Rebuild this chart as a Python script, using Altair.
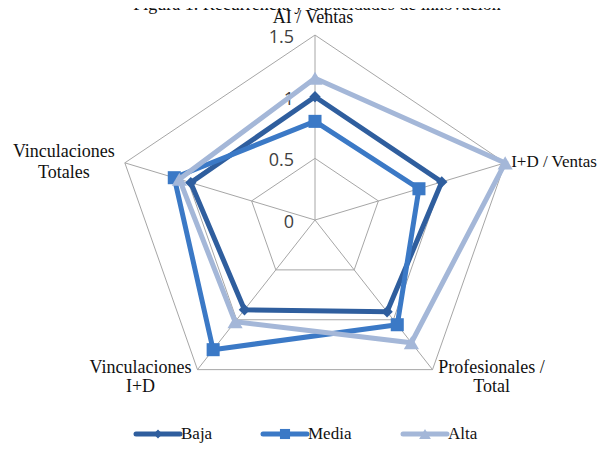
import altair as alt
import pandas as pd
import numpy as np

# ---- data ----
categories = ["AI / Ventas", "I+D / Ventas", "Profesionales / Total",
              "Vinculaciones I+D", "Vinculaciones Totales"]
series = ["Baja", "Media", "Alta"]
baja = [1.0, 1.0, 0.92, 0.90, 0.98]
media = [0.80, 0.82, 1.05, 1.30, 1.11]
alta = [1.15, 1.50, 1.23, 1.02, 1.07]
ticks = [0, 0.5, 1, 1.5]
title_text = "Figura 1. Recurrencia y capacidades de innovación"

values = {"Baja": baja, "Media": media, "Alta": alta}
colors = {"Baja": "#2f5e9e", "Media": "#3b79c6", "Alta": "#a4b7d8"}
shapes = {"Baja": "diamond", "Media": "square", "Alta": "triangle-up"}
sizes = {"Baja": 130, "Media": 170, "Alta": 230}

n = len(categories)
ang = [np.deg2rad(90 - 72 * i) for i in range(n)]

# ---- geometry of the plot area ----
W, H = 593, 435
cx, cy = 307, 212
kx, ky = 133.3, 123.3
xs = alt.Scale(domain=[-cx / kx, (W - cx) / kx], nice=False, zero=False)
ys = alt.Scale(domain=[-(H - cy) / ky, cy / ky], nice=False, zero=False)

def X(f="x"):
    return alt.X(f"{f}:Q", scale=xs, axis=None)

def Y(f="y"):
    return alt.Y(f"{f}:Q", scale=ys, axis=None)

# grid rings
rows = []
for lv in ticks[1:]:
    for j in range(n + 1):
        i = j % n
        rows.append({"ring": lv, "o": j, "x": lv * np.cos(ang[i]), "y": lv * np.sin(ang[i])})
rings = pd.DataFrame(rows)
spk = []
for i, c in enumerate(categories):
    spk.append({"cat": c, "o": 0, "x": 0.0, "y": 0.0})
    spk.append({"cat": c, "o": 1, "x": ticks[-1] * np.cos(ang[i]), "y": ticks[-1] * np.sin(ang[i])})
spokes = pd.DataFrame(spk)

grid_color = "#a6a6a6"
ring_layer = alt.Chart(rings).mark_line(color=grid_color, strokeWidth=1).encode(
    x=X(), y=Y(), detail="ring:N", order="o:Q")
spoke_layer = alt.Chart(spokes).mark_line(color=grid_color, strokeWidth=1).encode(
    x=X(), y=Y(), detail="cat:N", order="o:Q")

tick_df = pd.DataFrame({"v": ticks, "lab": ["0", "0.5", "1", "1.5"], "x": [0.0] * 4})
tick_layer = alt.Chart(tick_df).mark_text(
    align="right", baseline="middle", dx=-21, dy=3, font="Open Sans", fontSize=18,
    color="#404040").encode(x=X(), y=Y("v"), text="lab:N")

# category labels
lab_specs = [
    dict(align="center", baseline="middle", dx=-2, dy=-17, fontSize=18, lineHeight=19),
    dict(align="left", baseline="middle", dx=6, dy=-1, fontSize=17, lineHeight=19),
    dict(align="center", baseline="top", dx=59, dy=-11, fontSize=18, lineHeight=19),
    dict(align="center", baseline="top", dx=-57, dy=-11, fontSize=18, lineHeight=19),
    dict(align="center", baseline="top", dx=-61, dy=-20, fontSize=18, lineHeight=21),
]
label_text = ["AI / Ventas", "I+D / Ventas", "Profesionales /\nTotal",
              "Vinculaciones\nI+D", "Vinculaciones\nTotales"]
lab_layers = []
for i, c in enumerate(categories):
    d = pd.DataFrame({"x": [ticks[-1] * np.cos(ang[i])], "y": [ticks[-1] * np.sin(ang[i])],
                      "t": [label_text[i]]})
    lab_layers.append(alt.Chart(d).mark_text(
        font="Liberation Serif", color="#111111", lineBreak="\n",
        **lab_specs[i]).encode(x=X(), y=Y(), text="t:N"))

# series polygons and markers
srow = []
for s in series:
    for j in range(n + 1):
        i = j % n
        v = values[s][i]
        srow.append({"series": s, "o": j, "cat": categories[i], "v": v,
                     "x": v * np.cos(ang[i]), "y": v * np.sin(ang[i])})
sdf = pd.DataFrame(srow)

series_layers = []
for s in series:
    d = sdf[sdf.series == s]
    series_layers.append(alt.Chart(d).mark_line(
        color=colors[s], strokeWidth=5, strokeJoin="miter").encode(
        x=X(), y=Y(), order="o:Q"))
    series_layers.append(alt.Chart(d[d.o < n]).mark_point(
        shape=shapes[s], filled=True, opacity=1, color=colors[s], size=sizes[s]).encode(
        x=X(), y=Y()))

# legend
leg_x = {"Baja": 150, "Media": 277, "Alta": 417}
leg_y = 426
leg_layers = []
for s in series:
    d = pd.DataFrame({"series": [s]})
    base = alt.Chart(d)
    leg_layers.append(base.mark_rule(color=colors[s], strokeWidth=5, strokeCap="round").encode(
        x=alt.value(leg_x[s] - 22), x2=alt.value(leg_x[s] + 22), y=alt.value(leg_y)))
    leg_layers.append(base.mark_point(shape=shapes[s], filled=True, opacity=1, color=colors[s],
                                      size=sizes[s] * 0.6).encode(
        x=alt.value(leg_x[s]), y=alt.value(leg_y)))
    leg_layers.append(base.mark_text(align="left", baseline="middle", font="Liberation Serif",
                                     fontSize=17, color="#111111").encode(
        x=alt.value(leg_x[s] + 23), y=alt.value(leg_y), text="series:N"))

title_layer = alt.Chart(pd.DataFrame({"t": [title_text]})).mark_text(
    align="center", baseline="alphabetic", font="Liberation Serif", fontSize=18,
    color="#111111").encode(x=alt.value(309), y=alt.value(2), text="t:N")

chart = alt.layer(ring_layer, spoke_layer, tick_layer, *series_layers, *lab_layers,
                  *leg_layers, title_layer).properties(
    width=W, height=H, padding=0, background="white",
    autosize=alt.AutoSizeParams(type="none")
).configure_view(stroke="transparent", strokeWidth=0)

chart.save("out.html", embed_options={"renderer": "svg", "actions": False})
